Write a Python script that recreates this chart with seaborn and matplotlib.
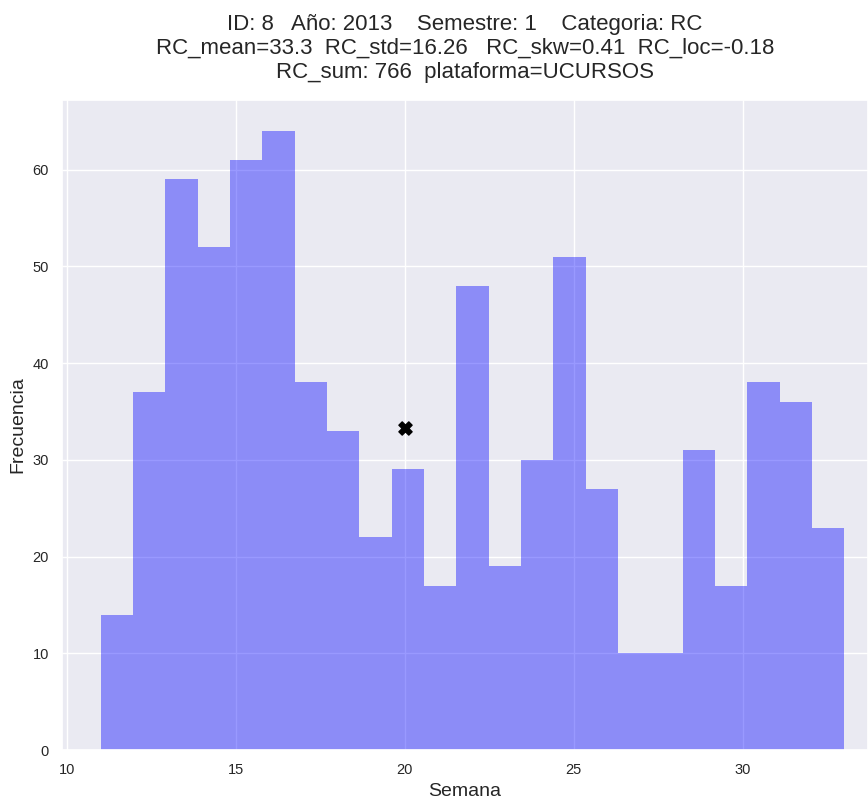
import numpy as np
import pandas as pd
import matplotlib
matplotlib.use("Agg")
import matplotlib.pyplot as plt
import seaborn as sns

weeks = list(range(11, 34))
counts = [14, 37, 59, 52, 61, 64, 38, 33, 22, 29, 17, 48, 19, 30, 51, 27, 10, 10, 31, 17, 38, 36, 23]
marker_x = [20]
marker_y = [33.3]
title_lines = [
    "ID: 8   Año: 2013    Semestre: 1    Categoria: RC",
    "RC_mean=33.3  RC_std=16.26   RC_skw=0.41  RC_loc=-0.18",
    "RC_sum: 766  plataforma=UCURSOS",
]

sns.set_theme(style="darkgrid")
plt.rcParams['font.family'] = ['Liberation Sans', 'DejaVu Sans']

df = pd.DataFrame({"Semana": weeks, "Frecuencia": counts})

fig = plt.figure(figsize=(8.68, 7.98), dpi=100)
ax = fig.add_axes([62/868, 48/798, (868-62)/868, (750-100)/798])
sns.histplot(data=df, x="Semana", weights="Frecuencia", bins=len(weeks),
             binrange=(min(weeks), max(weeks)), color="blue", alpha=0.4,
             linewidth=0, ax=ax)
ax.scatter(marker_x, marker_y, marker="X", color="black", s=90, zorder=5)
ax.set_xlim(9.86, 33.7)
ax.set_ylim(0, 67.2)
ax.set_xlabel("Semana", fontsize=14)
ax.set_ylabel("Frecuencia", fontsize=14)
ax.tick_params(labelsize=10.5)
ax.set_title("\n".join(title_lines), fontsize=16, pad=16, linespacing=1.18)
fig.savefig("out.png", dpi=100)
